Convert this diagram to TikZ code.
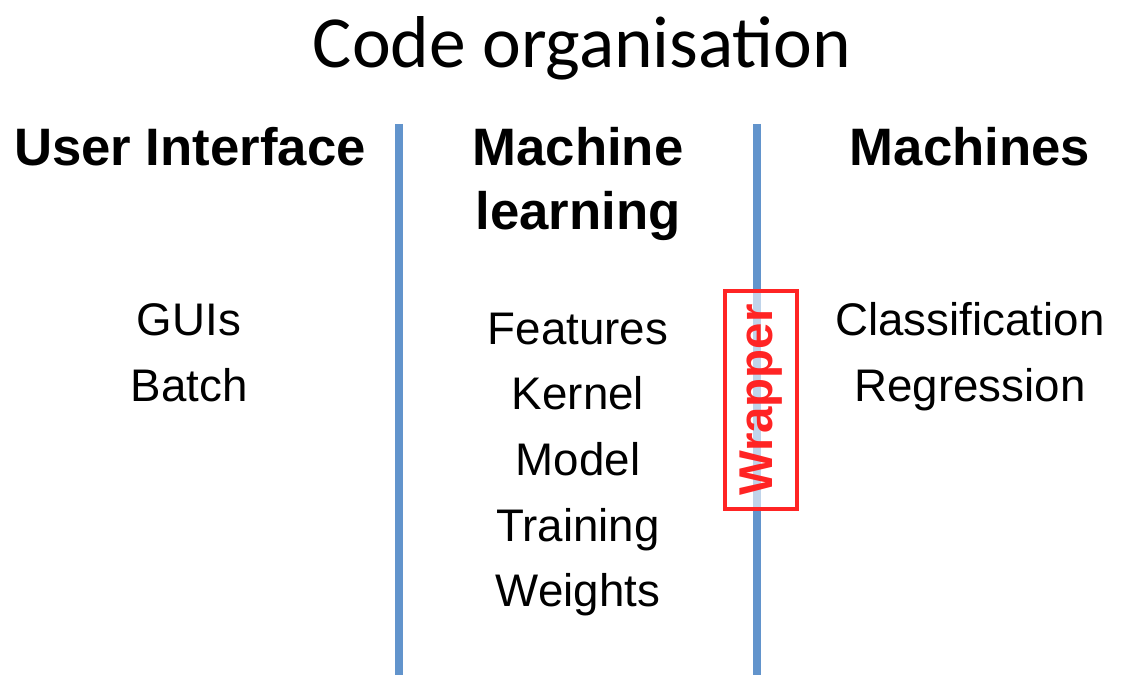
\documentclass[tikz,border=0pt]{standalone}
\usepackage{fontspec}
\setmainfont{Liberation Sans}
\newfontfamily\titlefont{Carlito}
\usetikzlibrary{positioning}

\definecolor{barblue}{RGB}{98,148,204}
\definecolor{wrapred}{RGB}{255,36,36}

\begin{document}
\begin{tikzpicture}[x=0.02cm,y=-0.02cm,
  title/.style={anchor=base,inner sep=0pt,font=\titlefont\fontsize{41.8}{48}\selectfont},
  head/.style={anchor=base,inner sep=0pt,align=center,
    font=\bfseries\fontsize{30}{36.4}\selectfont},
  item/.style={anchor=base,inner sep=0pt,font=\fontsize{26}{31}\selectfont},
  divider/.style={barblue,line width=0.16cm},
  wrapbox/.style={draw=wrapred,line width=1.9pt,fill=white,fill opacity=0.6,
    text opacity=1,text=wrapred,rotate=90,inner sep=0pt,
    minimum width=4.36cm,minimum height=1.44cm,
    font=\bfseries\fontsize{27}{31}\selectfont}]
  \useasboundingbox (0,0) rectangle (1133,689);

  \node[title] (title) at (582,68) {Code organisation};

  % column headings
  \node[head] (ui) at (190,166) {User Interface};
  \node[head] (ml) at (578,166) {Machine};
  \node[head] (ml2) at (578,230) {learning};
  \node[head] (mach) at (970,166) {Machines};

  % column separators
  \coordinate (sepA top) at (399,124);
  \coordinate (sepA bot) at (399,675);
  \coordinate (sepB top) at (757,124);
  \coordinate (sepB bot) at (757,675);
  \draw[divider] (sepA top) -- (sepA bot);
  \draw[divider] (sepB top) -- (sepB bot);

  % column contents
  \foreach \txt [count=\i] in {GUIs,Batch}
    \node[item] (ui\i) at (189,{336+65*(\i-1)}) {\txt};
  \foreach \txt [count=\i] in {Features,Kernel,Model,Training,Weights}
    \node[item] (ml\i) at (578,{344+65.7*(\i-1)}) {\txt};
  \foreach \txt [count=\i] in {Classification,Regression}
    \node[item] (mach\i) at (970,{336+65*(\i-1)}) {\txt};

  \node[wrapbox] (wrapper) at (761,400) {Wrapper};
\end{tikzpicture}
\end{document}
